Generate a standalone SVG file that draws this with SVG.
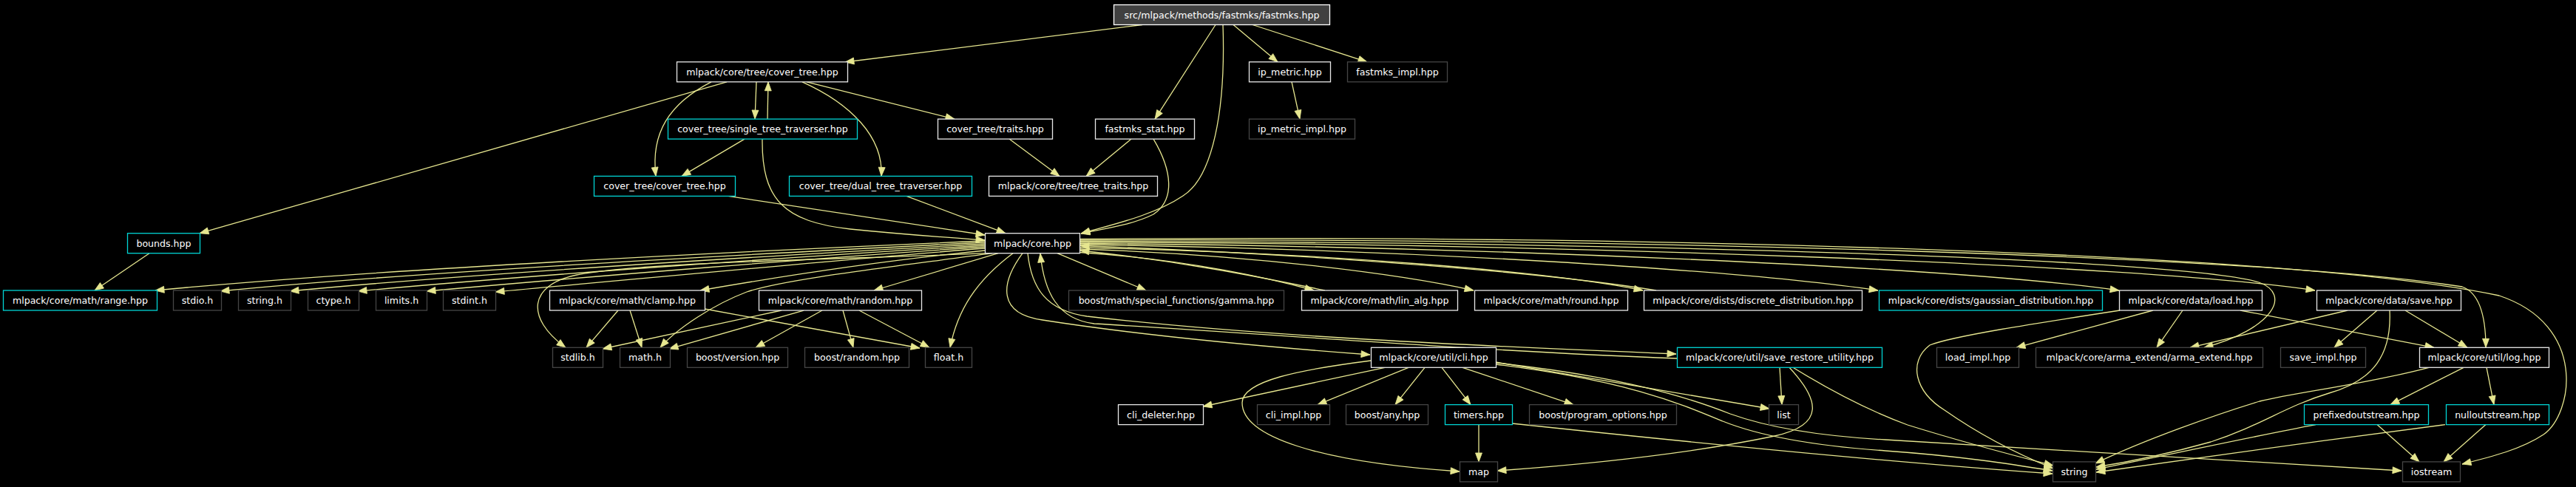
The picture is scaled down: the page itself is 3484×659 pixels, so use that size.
<svg xmlns="http://www.w3.org/2000/svg" width="3484" height="659" viewBox="0 0 3484 659">
<style>
.bg{fill:#000000}
.n rect{fill:#000000;stroke-width:1.3}
.doc rect{stroke:#e8e8e8}
.und rect{stroke:#454545}
.red rect{stroke:#00d4d4}
.root rect{fill:#404040;stroke:#ffffff}
.n text{font-family:"DejaVu Sans",sans-serif;font-size:12.6px;fill:#ffffff;text-anchor:middle}
#edges path{fill:none;stroke:#e6e68f;stroke-width:1.3;marker-end:url(#ah)}
</style>
<defs>
<marker id="ah" markerUnits="userSpaceOnUse" viewBox="0 0 12 9" markerWidth="12" markerHeight="9" refX="12" refY="4.5" orient="auto" overflow="visible">
<path d="M0,0 L12,4.5 L0,9 z" fill="#e6e68f" stroke="#e6e68f" stroke-width="0.8"/>
</marker>
</defs>
<rect class="bg" x="0" y="0" width="3484" height="659"/>
<g id="edges">
<path d="M1545,33.5 L1143,84"/>
<path d="M1644,33.5 L1562,161.1"/>
<path d="M1654,33.5 C1658,150 1640,240 1600,265 C1560,292 1500,305 1462,316"/>
<path d="M1668,33.5 L1728,83.8"/>
<path d="M1694,33.5 L1849,83.8"/>
<path d="M983,110.8 L270,315.7"/>
<path d="M962,110.8 C905,140 880,180 887,238.4"/>
<path d="M1023,110.8 L1021,161.1"/>
<path d="M1038,161.1 L1039,110.8"/>
<path d="M1085,110.8 C1150,140 1195,185 1192,238.4"/>
<path d="M1091,110.8 L1291,161.1"/>
<path d="M1007,188.1 L922,238.4"/>
<path d="M1031,188.1 C1030,270 1060,300 1150,310 C1230,318 1290,322 1332,325"/>
<path d="M985,265.4 L1332,318"/>
<path d="M1226,265.4 L1360,315.7"/>
<path d="M1365,188.1 L1433,238.4"/>
<path d="M1530,188.1 L1469,238.4"/>
<path d="M1560,188.1 C1585,230 1590,270 1560,290 C1530,305 1490,310 1462,316"/>
<path d="M1747,110.8 L1758,161.1"/>
<path d="M202,342.7 L128,393"/>
<path d="M1332,326 C1000,340 500,365 210,393"/>
<path d="M1332,328 C1050,342 560,368 298,394"/>
<path d="M1332,330 C1080,344 640,370 392,394"/>
<path d="M1332,332 C1100,346 720,372 484,394"/>
<path d="M1332,334 C1120,348 800,374 577,394"/>
<path d="M1332,336 C1150,350 880,376 670,395"/>
<path d="M1332,339 C1200,352 1050,375 947,393"/>
<path d="M1335,342.7 C1100,352 870,355 780,372 C715,385 710,430 765,470.3"/>
<path d="M1342,342.7 C1200,362 1060,378 1010,395 C965,412 915,445 893,470.3"/>
<path d="M1350,342.7 L1182,393"/>
<path d="M1370,342.7 C1320,380 1295,420 1285,470.3"/>
<path d="M1383,342.7 C1352,385 1350,425 1410,433 C1550,455 1720,470 1853,480"/>
<path d="M1390,342.7 C1395,390 1415,420 1470,428 C1700,455 2000,468 2267,479"/>
<path d="M2268,485 C2000,475 1720,452 1480,438 C1430,432 1412,395 1407,343"/>
<path d="M1430,342.7 L1550,393"/>
<path d="M1460,341.5 C1600,351 1700,372 1777,393"/>
<path d="M1792,393 C1700,374 1600,354 1461,339"/>
<path d="M1460,337 C1700,345 1900,372 1993,393"/>
<path d="M1460,335 C1800,342 2100,368 2222,393"/>
<path d="M2240,393 C2100,370 1800,345 1461,332.5"/>
<path d="M1460,331 C1900,337 2350,365 2540,393"/>
<path d="M1460,329.5 C2000,333 2650,362 2866,393"/>
<path d="M1460,328 C2100,329 2900,358 3131,393"/>
<path d="M1460,326.5 C2200,327 2950,350 3055,382 C3100,398 3075,445 2981,470.3"/>
<path d="M1460,325 C2200,322 3050,345 3330,388 C3358,398 3362,440 3362,470.3"/>
<path d="M1460,323.5 C2200,318 3100,340 3380,400 C3500,440 3480,560 3440,588 C3410,608 3370,618 3330,628"/>
<path d="M836,420 L793,470.3"/>
<path d="M852,420 L868,470.3"/>
<path d="M953,418 L1244,471"/>
<path d="M1057,420 L815,472"/>
<path d="M1087,420 L905,472"/>
<path d="M1112,420 L1022,470.3"/>
<path d="M1140,420 L1154,470.3"/>
<path d="M1162,420 L1257,470.3"/>
<path d="M2867,420 C2750,438 2640,455 2610,467 C2580,490 2590,530 2630,555 C2680,590 2730,615 2777,634"/>
<path d="M2912,420 L2727,470.3"/>
<path d="M2952,420 L2917,470.3"/>
<path d="M3030,420 L3292,470.3"/>
<path d="M3215,420 L3157,470.3"/>
<path d="M3253,420 L3337,470.3"/>
<path d="M3175,420 L2962,470.3"/>
<path d="M3232,420 C3235,480 3210,515 3150,532 C3090,550 3060,575 2990,598 C2940,612 2880,625 2835,632"/>
<path d="M3332,497.3 L3233,547.6"/>
<path d="M3363,497.3 L3373,547.6"/>
<path d="M3285,497.3 C3200,520 3110,530 3056,543 C3000,560 2900,595 2834,627"/>
<path d="M3215,574.6 L3272,624.9"/>
<path d="M3132,574.6 C3050,590 2950,612 2835,635"/>
<path d="M3362,574.6 L3305,624.9"/>
<path d="M3307,574.6 C3150,595 2950,622 2835,639"/>
<path d="M1854,488 C1760,500 1680,515 1680,545 C1680,590 1780,625 1974,638"/>
<path d="M1873,497.3 L1627,550"/>
<path d="M1905,497.3 L1782,547.6"/>
<path d="M1927,497.3 L1887,547.6"/>
<path d="M1950,497.3 L1989,547.6"/>
<path d="M1978,497.3 L2128,547.6"/>
<path d="M2023,490 L2393,553"/>
<path d="M2023,493 C2200,515 2270,545 2330,570 C2380,590 2450,603 2550,610 C2650,617 2720,628 2776,637"/>
<path d="M2023,491 C2200,510 2290,540 2340,560 C2390,578 2460,590 2550,595 C2800,610 3050,625 3248,637"/>
<path d="M2000,574.6 L2000,624.9"/>
<path d="M2045,573 C2300,600 2550,625 2776,641"/>
<path d="M2407,497.3 L2410,547.6"/>
<path d="M2420,497.3 C2460,540 2470,575 2400,590 C2280,615 2150,628 2025,637"/>
<path d="M2425,497.3 C2470,525 2520,553 2580,575 C2660,600 2730,618 2777,630"/>
</g>
<g id="n_root" class="n root"><rect x="1506.5" y="6.5" width="292" height="27"/><text x="1652.5" y="24.5">src/mlpack/methods/fastmks/fastmks.hpp</text></g>
<g id="n_cover_tree" class="n doc"><rect x="915.5" y="83.8" width="231" height="27"/><text x="1031" y="101.8">mlpack/core/tree/cover_tree.hpp</text></g>
<g id="n_ip_metric" class="n doc"><rect x="1689.5" y="83.8" width="110" height="27"/><text x="1744.5" y="101.8">ip_metric.hpp</text></g>
<g id="n_fastmks_impl" class="n und"><rect x="1822.5" y="83.8" width="135" height="27"/><text x="1890" y="101.8">fastmks_impl.hpp</text></g>
<g id="n_single" class="n red"><rect x="903.5" y="161.1" width="256" height="27"/><text x="1031.5" y="179.1">cover_tree/single_tree_traverser.hpp</text></g>
<g id="n_traits" class="n doc"><rect x="1268.5" y="161.1" width="155" height="27"/><text x="1346" y="179.1">cover_tree/traits.hpp</text></g>
<g id="n_stat" class="n doc"><rect x="1481.5" y="161.1" width="134" height="27"/><text x="1548.5" y="179.1">fastmks_stat.hpp</text></g>
<g id="n_ip_impl" class="n und"><rect x="1689.5" y="161.1" width="143" height="27"/><text x="1761" y="179.1">ip_metric_impl.hpp</text></g>
<g id="n_ct_ct" class="n red"><rect x="803.5" y="238.4" width="191" height="27"/><text x="899" y="256.4">cover_tree/cover_tree.hpp</text></g>
<g id="n_dual" class="n red"><rect x="1067.5" y="238.4" width="247" height="27"/><text x="1191" y="256.4">cover_tree/dual_tree_traverser.hpp</text></g>
<g id="n_tree_traits" class="n doc"><rect x="1337.5" y="238.4" width="228" height="27"/><text x="1451.5" y="256.4">mlpack/core/tree/tree_traits.hpp</text></g>
<g id="n_bounds" class="n red"><rect x="172.5" y="315.7" width="98" height="27"/><text x="221.5" y="333.7">bounds.hpp</text></g>
<g id="n_core" class="n doc"><rect x="1332.5" y="315.7" width="128" height="27"/><text x="1396.5" y="333.7">mlpack/core.hpp</text></g>
<g id="n_range" class="n red"><rect x="4.5" y="393" width="208" height="27"/><text x="108.5" y="411">mlpack/core/math/range.hpp</text></g>
<g id="n_stdio" class="n und"><rect x="234.5" y="393" width="65" height="27"/><text x="267" y="411">stdio.h</text></g>
<g id="n_string_h" class="n und"><rect x="322.5" y="393" width="71" height="27"/><text x="358" y="411">string.h</text></g>
<g id="n_ctype" class="n und"><rect x="416.5" y="393" width="69" height="27"/><text x="451" y="411">ctype.h</text></g>
<g id="n_limits" class="n und"><rect x="508.5" y="393" width="69" height="27"/><text x="543" y="411">limits.h</text></g>
<g id="n_stdint" class="n und"><rect x="599.5" y="393" width="71" height="27"/><text x="635" y="411">stdint.h</text></g>
<g id="n_clamp" class="n doc"><rect x="743.5" y="393" width="210" height="27"/><text x="848.5" y="411">mlpack/core/math/clamp.hpp</text></g>
<g id="n_random" class="n doc"><rect x="1026.5" y="393" width="220" height="27"/><text x="1136.5" y="411">mlpack/core/math/random.hpp</text></g>
<g id="n_gamma" class="n und"><rect x="1445.5" y="393" width="291" height="27"/><text x="1591" y="411">boost/math/special_functions/gamma.hpp</text></g>
<g id="n_lin_alg" class="n doc"><rect x="1760.5" y="393" width="211" height="27"/><text x="1866" y="411">mlpack/core/math/lin_alg.hpp</text></g>
<g id="n_round" class="n doc"><rect x="1994.5" y="393" width="207" height="27"/><text x="2098" y="411">mlpack/core/math/round.hpp</text></g>
<g id="n_discrete" class="n doc"><rect x="2223.5" y="393" width="295" height="27"/><text x="2371" y="411">mlpack/core/dists/discrete_distribution.hpp</text></g>
<g id="n_gaussian" class="n red"><rect x="2541.5" y="393" width="302" height="27"/><text x="2692.5" y="411">mlpack/core/dists/gaussian_distribution.hpp</text></g>
<g id="n_load" class="n doc"><rect x="2866.5" y="393" width="193" height="27"/><text x="2963" y="411">mlpack/core/data/load.hpp</text></g>
<g id="n_save" class="n doc"><rect x="3133.5" y="393" width="195" height="27"/><text x="3231" y="411">mlpack/core/data/save.hpp</text></g>
<g id="n_stdlib" class="n und"><rect x="747.5" y="470.3" width="68" height="27"/><text x="781.5" y="488.3">stdlib.h</text></g>
<g id="n_math_h" class="n und"><rect x="838.5" y="470.3" width="68" height="27"/><text x="872.5" y="488.3">math.h</text></g>
<g id="n_version" class="n und"><rect x="929.5" y="470.3" width="136" height="27"/><text x="997.5" y="488.3">boost/version.hpp</text></g>
<g id="n_boost_random" class="n und"><rect x="1088.5" y="470.3" width="141" height="27"/><text x="1159" y="488.3">boost/random.hpp</text></g>
<g id="n_float" class="n und"><rect x="1251.5" y="470.3" width="63" height="27"/><text x="1283" y="488.3">float.h</text></g>
<g id="n_cli" class="n doc"><rect x="1854.5" y="470.3" width="169" height="27"/><text x="1939" y="488.3">mlpack/core/util/cli.hpp</text></g>
<g id="n_save_restore" class="n red"><rect x="2268.5" y="470.3" width="277" height="27"/><text x="2407" y="488.3">mlpack/core/util/save_restore_utility.hpp</text></g>
<g id="n_load_impl" class="n und"><rect x="2619.5" y="470.3" width="111" height="27"/><text x="2675" y="488.3">load_impl.hpp</text></g>
<g id="n_arma" class="n und"><rect x="2753.5" y="470.3" width="307" height="27"/><text x="2907" y="488.3">mlpack/core/arma_extend/arma_extend.hpp</text></g>
<g id="n_save_impl" class="n und"><rect x="3084.5" y="470.3" width="115" height="27"/><text x="3142" y="488.3">save_impl.hpp</text></g>
<g id="n_log" class="n doc"><rect x="3272.5" y="470.3" width="175" height="27"/><text x="3360" y="488.3">mlpack/core/util/log.hpp</text></g>
<g id="n_cli_deleter" class="n doc"><rect x="1512.5" y="547.6" width="115" height="27"/><text x="1570" y="565.6">cli_deleter.hpp</text></g>
<g id="n_cli_impl" class="n und"><rect x="1700.5" y="547.6" width="98" height="27"/><text x="1749.5" y="565.6">cli_impl.hpp</text></g>
<g id="n_any" class="n und"><rect x="1820.5" y="547.6" width="111" height="27"/><text x="1876" y="565.6">boost/any.hpp</text></g>
<g id="n_timers" class="n red"><rect x="1954.5" y="547.6" width="91" height="27"/><text x="2000" y="565.6">timers.hpp</text></g>
<g id="n_progopts" class="n und"><rect x="2068.5" y="547.6" width="199" height="27"/><text x="2168" y="565.6">boost/program_options.hpp</text></g>
<g id="n_list" class="n und"><rect x="2392.5" y="547.6" width="40" height="27"/><text x="2412.5" y="565.6">list</text></g>
<g id="n_prefixed" class="n red"><rect x="3116.5" y="547.6" width="168" height="27"/><text x="3200.5" y="565.6">prefixedoutstream.hpp</text></g>
<g id="n_null" class="n red"><rect x="3308.5" y="547.6" width="139" height="27"/><text x="3378" y="565.6">nulloutstream.hpp</text></g>
<g id="n_map" class="n und"><rect x="1974.5" y="624.9" width="51" height="27"/><text x="2000" y="642.9">map</text></g>
<g id="n_string" class="n und"><rect x="2776.5" y="624.9" width="58" height="27"/><text x="2805.5" y="642.9">string</text></g>
<g id="n_iostream" class="n und"><rect x="3249.5" y="624.9" width="78" height="27"/><text x="3288.5" y="642.9">iostream</text></g>
</svg>
